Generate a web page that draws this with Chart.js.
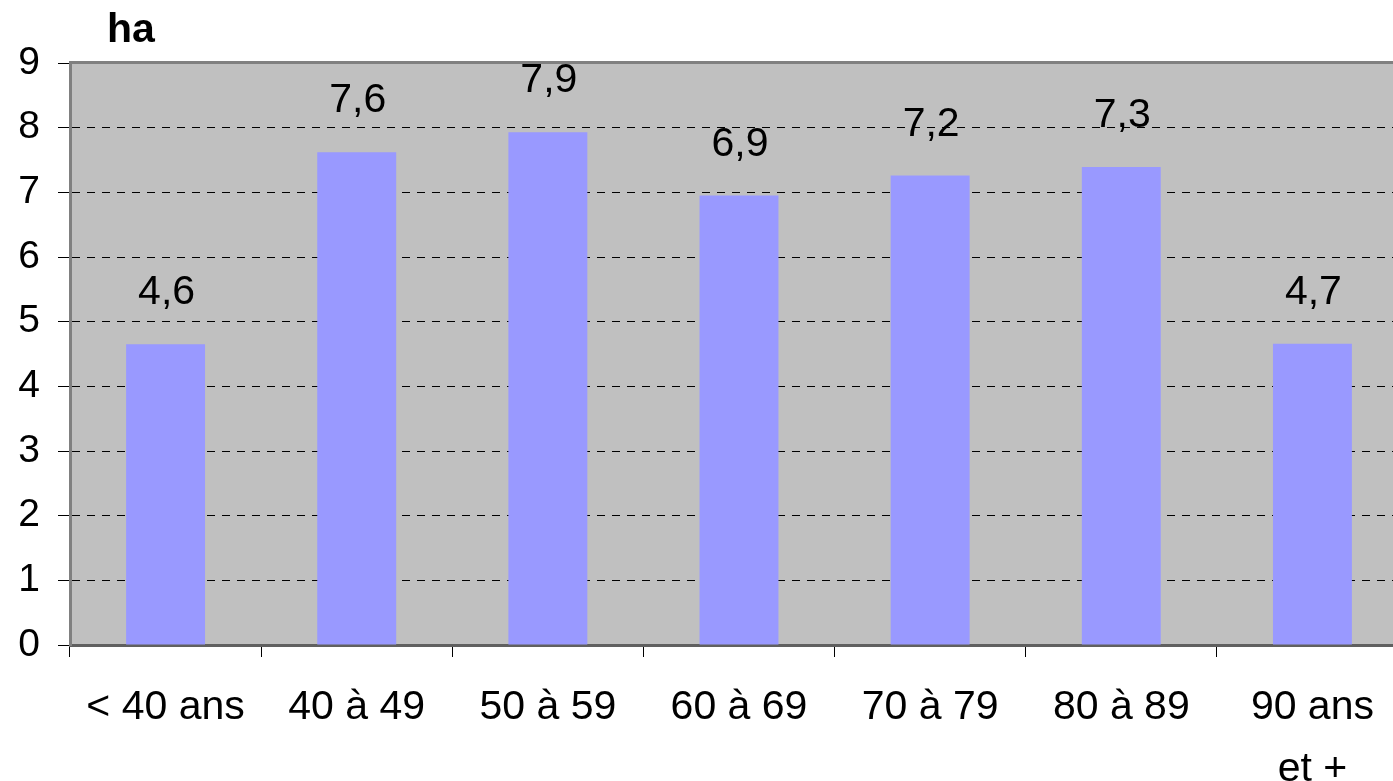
<!DOCTYPE html>
<html>
<head>
<meta charset="utf-8">
<script src="https://cdn.jsdelivr.net/npm/chart.js@4/dist/chart.umd.min.js"></script>
<style>
html, body { margin: 0; padding: 0; overflow: hidden; background: #ffffff; }
#wrap { position: absolute; left: 0; top: 0; width: 1408px; height: 781px; }
</style>
</head>
<body>
<div id="wrap"><canvas id="c" width="1408" height="781"></canvas></div>
<script>
const categories = ['< 40 ans', '40 à 49', '50 à 59', '60 à 69', '70 à 79', '80 à 89', ['90 ans', 'et +']];
const values = [4.65, 7.62, 7.93, 6.95, 7.26, 7.39, 4.66];
const valueLabels = ['4,6', '7,6', '7,9', '6,9', '7,2', '7,3', '4,7'];
const yTicks = [0, 1, 2, 3, 4, 5, 6, 7, 8, 9];
const unitLabel = 'ha';

const FONT = "'Liberation Sans', Arial, sans-serif";

const decor = {
  id: 'decor',
  beforeDraw(chart) {
    const { ctx, chartArea: a } = chart;
    ctx.save();
    ctx.fillStyle = '#C0C0C0';
    ctx.fillRect(a.left, a.top, a.right - a.left, a.bottom - a.top);
    ctx.restore();
  },
  beforeDatasetsDraw(chart) {
    const { ctx, chartArea: a } = chart;
    ctx.save();
    ctx.fillStyle = '#808080';
    ctx.fillRect(a.left - 1, a.top - 2, a.right - a.left + 2, 3);
    ctx.restore();
  },
  afterDatasetsDraw(chart) {
    const { ctx } = chart;
    const meta = chart.getDatasetMeta(0);
    ctx.save();
    ctx.font = '41px ' + FONT;
    ctx.fillStyle = '#000000';
    ctx.textAlign = 'center';
    ctx.textBaseline = 'alphabetic';
    meta.data.forEach((bar, i) => {
      ctx.fillText(valueLabels[i], bar.x + 1, bar.y - 40);
    });
    ctx.restore();
  },
  afterDraw(chart) {
    const { ctx, chartArea: a } = chart;
    ctx.save();
    ctx.font = 'bold 41px ' + FONT;
    ctx.fillStyle = '#000000';
    ctx.textAlign = 'center';
    ctx.textBaseline = 'alphabetic';
    ctx.fillText(unitLabel, a.left + 61, a.top - 21);
    ctx.restore();
  }
};

new Chart(document.getElementById('c'), {
  type: 'bar',
  data: {
    labels: categories,
    datasets: [{
      data: values,
      backgroundColor: '#9999FF',
      borderWidth: 0,
      categoryPercentage: 1,
      barPercentage: 0.413
    }]
  },
  options: {
    responsive: false,
    animation: false,
    devicePixelRatio: 1,
    layout: { padding: { top: 63, right: 0, left: 0, bottom: 0 } },
    plugins: { legend: { display: false }, tooltip: { enabled: false }, title: { display: false } },
    scales: {
      x: {
        offset: true,
        grid: { display: true, drawOnChartArea: false, drawTicks: true, tickLength: 12, color: '#000000', offset: true },
        border: { display: true, color: '#606060', width: 3 },
        ticks: { color: '#000000', font: { family: FONT, size: 41, lineHeight: 1.5 }, padding: 20, maxRotation: 0, autoSkip: false },
        afterFit(scale) { scale.height = 136; }
      },
      y: {
        min: 0, max: 9,
        afterBuildTicks(scale) { scale.ticks = yTicks.map(v => ({ value: v })); },
        grid: { color: '#000000', lineWidth: 1, tickLength: 12, tickColor: '#000000', drawTicks: true },
        border: { display: true, color: '#808080', width: 3, dash: [8, 7] },
        ticks: { color: '#000000', font: { family: FONT, size: 39 }, padding: 18 },
        afterFit(scale) { scale.width = 70; }
      }
    }
  },
  plugins: [decor]
});
</script>
</body>
</html>
